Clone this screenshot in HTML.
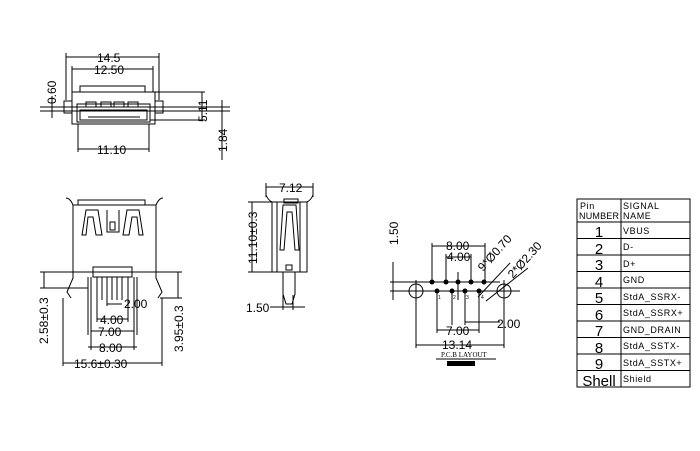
<!DOCTYPE html>
<html><head><meta charset="utf-8"><style>
html,body{margin:0;padding:0;background:#fff;}
svg{display:block;}
text{font-family:"Liberation Sans",sans-serif;fill:#000;}
</style></head><body>
<svg width="700" height="451" viewBox="0 0 700 451" xmlns="http://www.w3.org/2000/svg">
<g stroke="#000" stroke-width="1" fill="none">
<!-- TOP VIEW -->
<line x1="66" y1="53" x2="66" y2="100"/><line x1="159" y1="53" x2="159" y2="100"/>
<line x1="66" y1="57" x2="159" y2="57"/>
<line x1="72" y1="66" x2="72" y2="92"/><line x1="153" y1="66" x2="153" y2="92"/>
<line x1="72" y1="69" x2="153" y2="69"/>
<rect x="72" y="92" width="83" height="32"/>
<rect x="80" y="86" width="65" height="6"/>
<rect x="64" y="101" width="8" height="12"/><rect x="155" y="101" width="8" height="12"/>
<rect x="77" y="104" width="73" height="18"/>
<rect x="80" y="110" width="67" height="10"/>
<rect x="86" y="102" width="10" height="5"/><rect x="101" y="102" width="10" height="5"/><rect x="114" y="102" width="10" height="5"/><rect x="128" y="102" width="10" height="5"/>
<line x1="88" y1="117" x2="140" y2="117"/>
<line x1="78" y1="124" x2="78" y2="152"/><line x1="149" y1="124" x2="149" y2="152"/>
<line x1="78" y1="149" x2="149" y2="149"/>
<line x1="155" y1="92" x2="205" y2="92"/><line x1="150" y1="120" x2="205" y2="120"/>
<line x1="202" y1="92" x2="202" y2="120"/>
<line x1="40" y1="107" x2="230" y2="107"/>
<line x1="40" y1="111" x2="230" y2="111"/>
<line x1="222" y1="100" x2="222" y2="160"/>
<line x1="52" y1="96" x2="52" y2="118"/>
<!-- FRONT VIEW -->
<rect x="73" y="205" width="83" height="67"/>
<rect x="78" y="200" width="67" height="5"/>
<path d="M73 205 Q70 198 66 198 M156 205 Q159 198 163 198"/>
<path d="M86 210 h12 l4 25 h-6 l-3 -18 h-5 l-2 18 h-4 z"/>
<path d="M127 210 h12 l4 25 h-4 l-2 -18 h-5 l-3 18 h-6 z"/>
<path d="M107 210 v22 h12 v-22"/><rect x="110" y="222" width="5" height="8"/>
<rect x="93" y="267" width="39" height="10"/>
<path d="M73 272 v6 l-6 14 l4 6 M156 272 v6 l6 14 l-4 6"/>
<line x1="88" y1="277" x2="88" y2="300"/><line x1="91" y1="277" x2="91" y2="300"/>
<line x1="97" y1="277" x2="97" y2="300"/><line x1="102" y1="277" x2="102" y2="300"/><line x1="107" y1="277" x2="107" y2="300"/><line x1="112" y1="277" x2="112" y2="300"/><line x1="117" y1="277" x2="117" y2="300"/><line x1="122" y1="277" x2="122" y2="300"/><line x1="128" y1="277" x2="128" y2="300"/>
<line x1="134" y1="277" x2="134" y2="300"/><line x1="137" y1="277" x2="137" y2="300"/>
<line x1="40" y1="272" x2="73" y2="272"/><line x1="40" y1="288" x2="88" y2="288"/>
<line x1="44" y1="272" x2="44" y2="288"/>
<line x1="156" y1="272" x2="182" y2="272"/><line x1="160" y1="298" x2="182" y2="298"/>
<line x1="178" y1="272" x2="178" y2="298"/>
<line x1="107" y1="300" x2="107" y2="306"/><line x1="107" y1="304" x2="122" y2="304"/>
<line x1="91" y1="300" x2="91" y2="350"/><line x1="88" y1="300" x2="88" y2="335"/>
<line x1="134" y1="300" x2="134" y2="350"/><line x1="137" y1="300" x2="137" y2="335"/>
<line x1="97" y1="300" x2="97" y2="322"/><line x1="128" y1="300" x2="128" y2="322"/>
<line x1="97" y1="319" x2="128" y2="319"/>
<line x1="91" y1="331" x2="134" y2="331"/>
<line x1="88" y1="347" x2="137" y2="347"/>
<line x1="63" y1="298" x2="63" y2="366"/><line x1="162" y1="298" x2="162" y2="366"/>
<line x1="63" y1="363" x2="162" y2="363"/>
<!-- SIDE VIEW -->
<line x1="266" y1="183" x2="266" y2="197"/><line x1="313" y1="183" x2="313" y2="197"/>
<line x1="266" y1="187" x2="313" y2="187"/>
<path d="M266 195 Q268 200 272 202 M313 195 Q311 200 307 202"/>
<rect x="272" y="202" width="35" height="70"/>
<line x1="277" y1="202" x2="277" y2="272"/><line x1="300" y1="202" x2="300" y2="272"/>
<rect x="284" y="199" width="14" height="4"/>
<path d="M283 205 l-3 45 h4 l3 -38 h5 l3 38 h4 l-3 -45 z"/>
<rect x="286" y="265" width="6" height="5"/>
<path d="M283 272 v22 l3 10 h6 l3 -10 v-22"/>
<line x1="248" y1="202" x2="272" y2="202"/><line x1="248" y1="272" x2="272" y2="272"/>
<line x1="252" y1="202" x2="252" y2="272"/>
<line x1="283" y1="295" x2="283" y2="310"/><line x1="293" y1="295" x2="293" y2="310"/>
<line x1="270" y1="307" x2="305" y2="307"/>
<!-- PCB -->
<line x1="390" y1="282" x2="500" y2="282"/>
<line x1="390" y1="291" x2="520" y2="291"/>
<line x1="393" y1="262" x2="393" y2="300"/>
<circle cx="416" cy="291" r="7"/><circle cx="504" cy="291" r="7"/>
<line x1="416" y1="280" x2="416" y2="302"/><line x1="405" y1="291" x2="427" y2="291"/>
<line x1="504" y1="280" x2="504" y2="302"/>
<line x1="458" y1="272" x2="458" y2="300"/>
<line x1="432" y1="243" x2="432" y2="282"/><line x1="485" y1="243" x2="485" y2="282"/>
<line x1="432" y1="246" x2="485" y2="246"/>
<line x1="446" y1="254" x2="446" y2="282"/><line x1="471" y1="254" x2="471" y2="282"/>
<line x1="446" y1="257" x2="471" y2="257"/>
<line x1="437" y1="291" x2="437" y2="333"/><line x1="479" y1="291" x2="479" y2="333"/>
<line x1="452" y1="291" x2="452" y2="325"/><line x1="465" y1="291" x2="465" y2="325"/>
<line x1="465" y1="322" x2="500" y2="322"/>
<line x1="437" y1="330" x2="479" y2="330"/>
<line x1="416" y1="298" x2="416" y2="348"/><line x1="504" y1="298" x2="504" y2="348"/>
<line x1="416" y1="345" x2="504" y2="345"/>
<line x1="478" y1="297" x2="510" y2="263"/>
<line x1="486" y1="301" x2="528" y2="268"/>
<line x1="436" y1="359" x2="496" y2="359"/>
<!-- TABLE -->
<rect x="577" y="199" width="113" height="188"/>
<line x1="621" y1="199" x2="621" y2="387"/>
<line x1="577" y1="222" x2="690" y2="222"/>
<line x1="577" y1="238.5" x2="690" y2="238.5"/><line x1="577" y1="255" x2="690" y2="255"/>
<line x1="577" y1="271.5" x2="690" y2="271.5"/><line x1="577" y1="288" x2="690" y2="288"/>
<line x1="577" y1="304.5" x2="690" y2="304.5"/><line x1="577" y1="321" x2="690" y2="321"/>
<line x1="577" y1="337.5" x2="690" y2="337.5"/><line x1="577" y1="354" x2="690" y2="354"/>
<line x1="577" y1="370.5" x2="690" y2="370.5"/>
</g>
<g fill="#000">
<circle cx="432" cy="282" r="2.5"/><circle cx="446" cy="282" r="2.5"/><circle cx="458" cy="282" r="2.5"/><circle cx="471" cy="282" r="2.5"/><circle cx="484" cy="282" r="2.5"/>
<circle cx="437" cy="291" r="2.5"/><circle cx="452" cy="291" r="2.5"/><circle cx="465" cy="291" r="2.5"/><circle cx="479" cy="291" r="2.5"/>
<rect x="447" y="361" width="28" height="5"/>
</g>
<g font-size="12">
<text x="97" y="62">14.5</text>
<text x="94" y="74">12.50</text>
<text x="97" y="154">11.10</text>
<text transform="translate(56,104) rotate(-90)">0.60</text>
<text transform="translate(207,122) rotate(-90)">5.11</text>
<text transform="translate(227,152) rotate(-90)">1.84</text>
<text transform="translate(48,344) rotate(-90)">2.58±0.3</text>
<text transform="translate(183,352) rotate(-90)">3.95±0.3</text>
<text x="124" y="308">2.00</text>
<text x="100" y="324">4.00</text>
<text x="98" y="336">7.00</text>
<text x="99" y="352">8.00</text>
<text x="74" y="368">15.6±0.30</text>
<text x="279" y="192">7.12</text>
<text transform="translate(257,264) rotate(-90)">11.10±0.3</text>
<text x="246" y="312">1.50</text>
<text transform="translate(398,245) rotate(-90)">1.50</text>
<text x="446" y="250">8.00</text>
<text x="447" y="261">4.00</text>
<text x="446" y="335">7.00</text>
<text x="442" y="349">13.14</text>
<text x="497" y="328">2.00</text>
<text transform="translate(483,272) rotate(-48)">9*Ø0.70</text>
<text transform="translate(513,279) rotate(-48)">2*Ø2.30</text>
</g>
<text x="441" y="357" font-size="7" style="font-family:'Liberation Serif',serif">P.C.B  LAYOUT</text>
<g font-size="5"><text x="438" y="299">1</text><text x="453" y="299">2</text><text x="466" y="299">3</text><text x="481" y="299">4</text></g>
<g font-size="9" letter-spacing="0.6">
<text x="580" y="209">Pin</text><text x="579" y="219" letter-spacing="0.2">NUMBER</text>
<text x="623" y="209">SIGNAL</text><text x="623" y="219">NAME</text>
<text x="623" y="234">VBUS</text><text x="623" y="250">D-</text><text x="623" y="267">D+</text>
<text x="623" y="283">GND</text><text x="623" y="300">StdA_SSRX-</text><text x="623" y="316">StdA_SSRX+</text>
<text x="623" y="333">GND_DRAIN</text><text x="623" y="349">StdA_SSTX-</text><text x="623" y="366">StdA_SSTX+</text>
<text x="623" y="382">Shield</text>
</g>
<g font-size="15" text-anchor="middle">
<text x="599" y="237">1</text><text x="599" y="254">2</text><text x="599" y="270">3</text>
<text x="599" y="287">4</text><text x="599" y="303">5</text><text x="599" y="320">6</text>
<text x="599" y="336">7</text><text x="599" y="353">8</text><text x="599" y="369">9</text>
<text x="599" y="386">Shell</text>
</g>
</svg>
</body></html>
